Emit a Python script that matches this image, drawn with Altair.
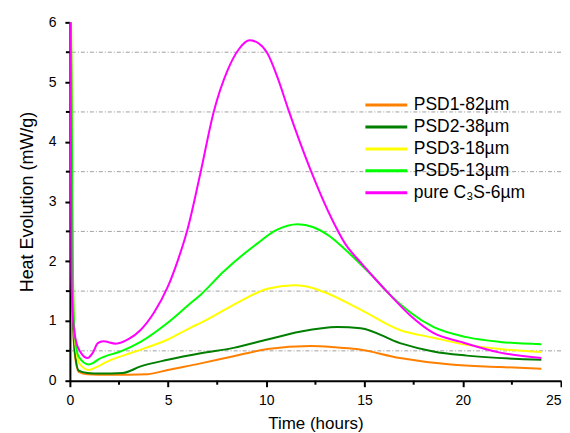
import altair as alt
import pandas as pd

names = ["PSD1-82µm", "PSD2-38µm", "PSD3-18µm", "PSD5-13µm", "pure C₃S-6µm"]
colors = ["#FF8000", "#007F00", "#FFFF00", "#00FF00", "#FF00FF"]

psd1_t = [0.05, 0.12, 0.22, 0.45, 0.9, 2.0, 3.96, 4.98, 6.66, 8.33, 10.06, 12.25, 13.5, 14.6, 16.8, 19.4, 21.9, 24.0]
psd1_v = [6.0, 1.8, 0.55, 0.15, 0.11, 0.10, 0.11, 0.18, 0.29, 0.41, 0.53, 0.58, 0.56, 0.53, 0.38, 0.27, 0.23, 0.20]

psd2_t = [0.05, 0.12, 0.22, 0.45, 0.9, 1.5, 2.7, 3.6, 4.98, 6.66, 8.33, 10.06, 11.7, 13.6, 14.8, 16.8, 18.5, 20.2, 24.0]
psd2_v = [6.0, 1.8, 0.6, 0.17, 0.13, 0.12, 0.13, 0.24, 0.35, 0.46, 0.55, 0.69, 0.82, 0.90, 0.88, 0.63, 0.49, 0.42, 0.35]

psd3_t = [0.06, 0.15, 0.25, 0.5, 0.97, 1.3, 1.9, 3.25, 4.98, 6.15, 6.66, 8.33, 10.06, 11.4, 12.0, 12.9, 14.8, 16.8, 18.5, 20.2, 21.9, 24.0]
psd3_v = [6.0, 1.8, 0.7, 0.28, 0.18, 0.22, 0.32, 0.48, 0.69, 0.89, 0.97, 1.27, 1.54, 1.60, 1.58, 1.49, 1.19, 0.85, 0.72, 0.60, 0.53, 0.48]

psd5_t = [0.06, 0.15, 0.22, 0.45, 0.97, 1.2, 1.47, 1.73, 2.59, 3.6, 4.98, 6.15, 6.66, 7.8, 9.55, 10.5, 11.6, 12.4, 13.26, 14.0, 14.8, 15.5, 16.2, 17.3, 18.5, 20.2, 21.9, 24.0]
psd5_v = [6.0, 2.0, 0.9, 0.4, 0.27, 0.30, 0.36, 0.40, 0.49, 0.65, 0.97, 1.30, 1.44, 1.82, 2.30, 2.52, 2.62, 2.57, 2.41, 2.20, 1.95, 1.72, 1.47, 1.15, 0.90, 0.73, 0.65, 0.61]

c3s_t = [0.03, 0.08, 0.15, 0.3, 0.6, 0.9, 1.17, 1.42, 1.7, 2.34, 3.0, 3.6, 4.3, 4.98, 5.5, 6.0, 6.66, 7.32, 8.03, 8.6, 9.15, 9.6, 10.06, 10.6, 11.13, 12.25, 13.36, 14.0, 14.8, 15.5, 16.2, 17.3, 18.5, 19.9, 21.9, 24.0]
c3s_v = [6.0, 1.8, 1.07, 0.68, 0.45, 0.38, 0.47, 0.63, 0.66, 0.62, 0.70, 0.85, 1.15, 1.57, 2.02, 2.55, 3.5, 4.5, 5.2, 5.55, 5.70, 5.65, 5.48, 5.05, 4.53, 3.53, 2.69, 2.3, 1.98, 1.72, 1.47, 1.10, 0.80, 0.65, 0.47, 0.38]

series_t = [psd1_t, psd2_t, psd3_t, psd5_t, c3s_t]
series_v = [psd1_v, psd2_v, psd3_v, psd5_v, c3s_v]

x_ticks = [0, 5, 10, 15, 20, 25]
x_minor = [2.5, 7.5, 12.5, 17.5, 22.5]
y_ticks = [0, 1, 2, 3, 4, 5, 6]
y_minor = [0.5, 1.5, 2.5, 3.5, 4.5, 5.5]

rows = []
for n, ts, vs in zip(names, series_t, series_v):
    for t, v in zip(ts, vs):
        rows.append({"t": t, "v": v, "s": n})
df = pd.DataFrame(rows)

W, H = 492, 359
FONT = "Liberation Sans"

xscale = alt.Scale(domain=[0, 25], nice=False)
yscale = alt.Scale(domain=[0, 6], nice=False)

xaxis = alt.Axis(values=x_ticks, title="Time (hours)", grid=False, tickSize=6,
                 labelPadding=7, titlePadding=8, titleFontSize=17, labelFontSize=14,
                 format="d",
                 labelAlign={"expr": "datum.value == 25 ? 'right' : 'center'"})
yaxis = alt.Axis(values=y_ticks, title="Heat Evolution (mW/g)", grid=False, tickSize=5,
                 labelPadding=9, titlePadding=12, titleFontSize=18, labelFontSize=14,
                 format="d")

grid = alt.Chart(pd.DataFrame({"g": y_minor})).mark_rule(
    strokeDash=[4, 2, 1, 2], color="#a0a0a0", strokeWidth=1
).encode(y=alt.Y("g:Q", scale=yscale, axis=yaxis))

ymt = alt.Chart(pd.DataFrame({"g": y_minor})).mark_rule(color="black", strokeWidth=2).encode(
    y=alt.Y("g:Q", scale=yscale, axis=yaxis), x=alt.value(-4), x2=alt.value(0))

xmt = alt.Chart(pd.DataFrame({"m": x_minor})).mark_rule(color="black", strokeWidth=2).encode(
    x=alt.X("m:Q", scale=xscale, axis=xaxis), y=alt.value(H), y2=alt.value(H + 4))

lines = alt.Chart(df).mark_line(strokeWidth=2, interpolate="monotone").encode(
    x=alt.X("t:Q", scale=xscale, axis=xaxis),
    y=alt.Y("v:Q", scale=yscale, axis=yaxis),
    color=alt.Color("s:N", scale=alt.Scale(domain=names, range=colors),
                    legend=alt.Legend(title=None, orient="none", legendX=324, legendY=74,
                                      symbolType="M-7,0H1", symbolSize=110,
                                      symbolStrokeWidth=3, labelFontSize=17.5,
                                      labelFont=FONT, labelColor="black",
                                      rowPadding=3, labelOffset=3)),
)

chart = alt.layer(grid, ymt, xmt, lines).properties(
    width=W, height=H, padding={"left": 10, "top": 7, "right": 0, "bottom": 0}
).configure_view(stroke=None).configure_axis(
    domainColor="black", domainWidth=2, tickColor="black", tickWidth=2,
    labelColor="black", titleColor="black", labelFont=FONT, titleFont=FONT,
    titleFontWeight="normal"
)

chart.save("out.html", embed_options={"renderer": "svg", "actions": False})
